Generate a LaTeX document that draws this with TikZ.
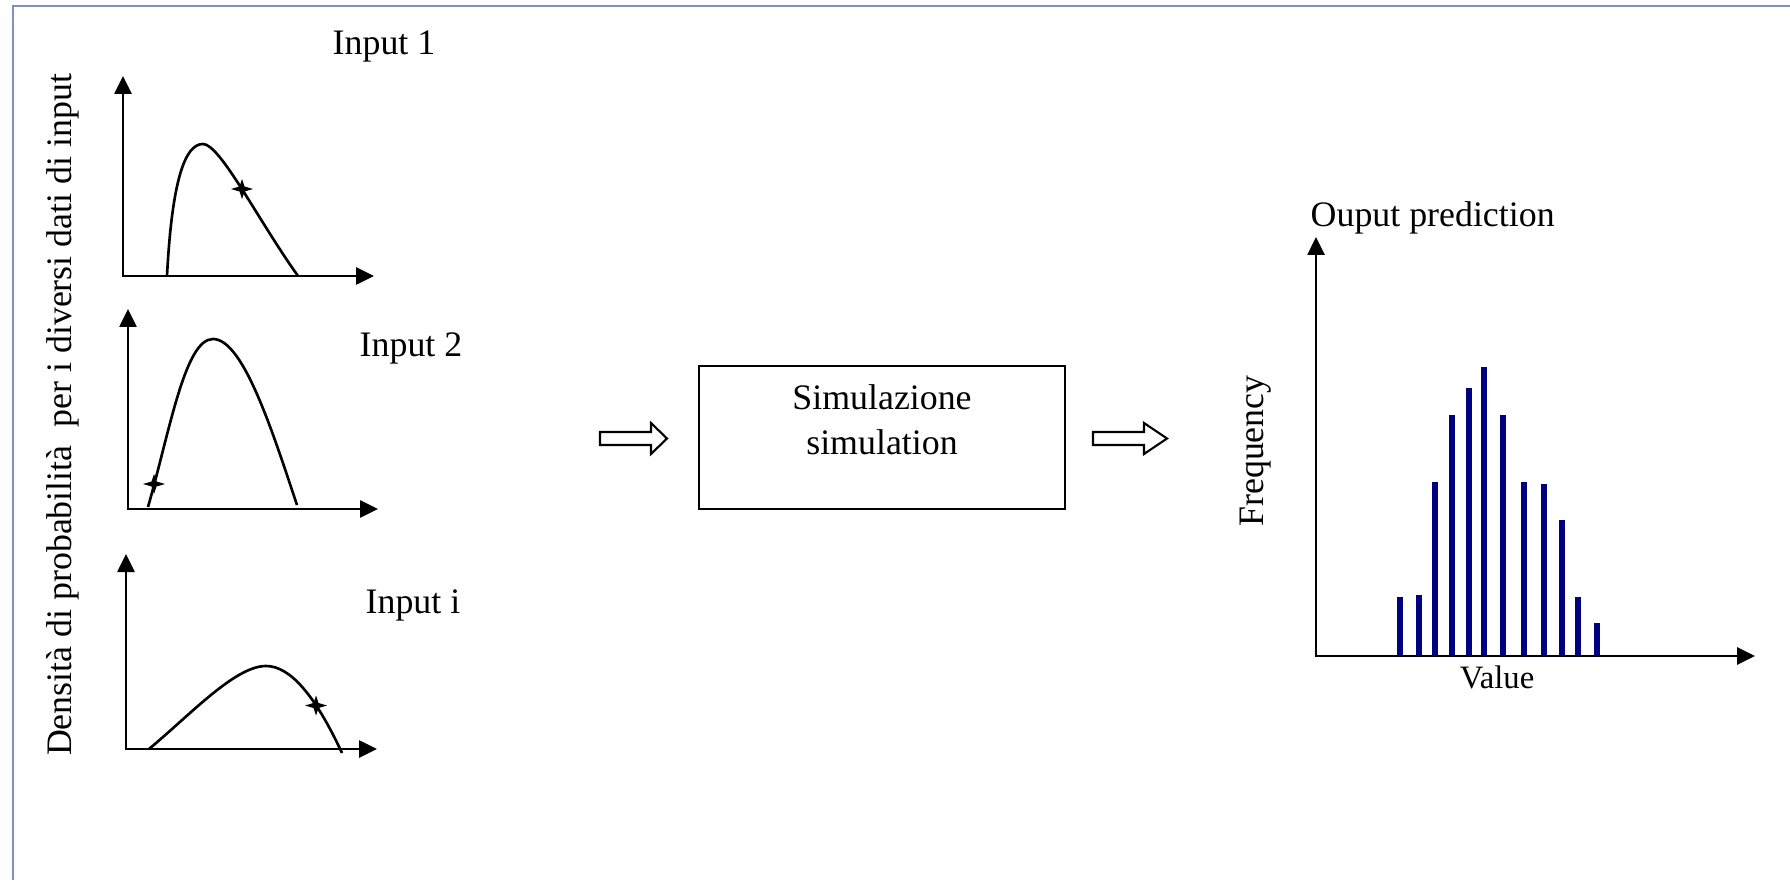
\documentclass[tikz,border=0pt]{standalone}
\usepackage{fontspec}
\setmainfont{Liberation Serif}
\usepackage{tikz}
\usetikzlibrary{arrows.meta,positioning}
\usepackage{xcolor}

\definecolor{framegray}{RGB}{128,144,192}
\definecolor{barblue}{RGB}{0,0,128}

\tikzset{
  lbl/.style={inner sep=0pt,font=\fontsize{10.2}{12.8}\selectfont},
  axes/.style={line width=0.75pt,{Triangle[length=0.18cm,width=0.17cm]}-{Triangle[length=0.18cm,width=0.17cm]}},
  pdf/.style={line width=0.75pt},
  hollow/.style={line width=0.6pt,line join=miter},
  bar/.style={draw=barblue,line width=0.06cm},
  simbox/.style={draw,line width=0.75pt,minimum width=3.66cm,minimum height=1.43cm,inner sep=0pt},
  mcstar/.pic={\fill (-0.11,0) -- (-0.025,0.025) -- (0,0.1) -- (0.025,0.025) -- (0.11,0) -- (0.025,-0.025) -- (0,-0.1) -- (-0.025,-0.025) -- cycle;}
}

\begin{document}
\begin{tikzpicture}

\useasboundingbox (0,0) rectangle (17.9,8.8);
\draw[framegray,line width=0.6pt] (0.127,0) -- (0.127,8.74) -- (17.9,8.74);

% input densities
\draw[axes] (1.23,8.04) -- (1.23,6.04) -- (3.74,6.04);
\draw[pdf] (1.67,6.04) .. controls (1.72,7.00) and (1.85,7.36) .. (2.03,7.36)
  .. controls (2.20,7.36) and (2.58,6.60) .. (2.98,6.04);
\pic at (2.42,6.91) {mcstar};

\draw[axes] (1.28,5.71) -- (1.28,3.71) -- (3.78,3.71);
\draw[pdf] (1.48,3.73) .. controls (1.70,4.50) and (1.85,5.41) .. (2.13,5.41)
  .. controls (2.43,5.41) and (2.72,4.50) .. (2.97,3.75);
\pic at (1.54,3.96) {mcstar};

\draw[axes] (1.26,3.26) -- (1.26,1.31) -- (3.77,1.31);
\draw[pdf] (1.49,1.31) .. controls (1.90,1.65) and (2.35,2.14) .. (2.66,2.14)
  .. controls (2.90,2.14) and (3.15,1.85) .. (3.42,1.27);
\pic at (3.16,1.745) {mcstar};

\node[lbl,anchor=base] (in1) at (3.84,8.25) {Input 1};
\node[lbl,anchor=base] (in2) at (4.11,5.23) {Input 2};
\node[lbl,anchor=base] (ini) at (4.13,2.67) {Input i};
\node[lbl,rotate=90,anchor=base] (dens) at (0.71,4.65) {Densità di probabilità\ \ per i diversi dati di input};

% simulation
\draw[hollow] (6.00,4.35) -- (6.51,4.35) -- (6.51,4.26) -- (6.67,4.415) -- (6.51,4.57) -- (6.51,4.48) -- (6.00,4.48) -- cycle;
\node[simbox] (sim) at (8.82,4.425) {};
\node[lbl,align=center,below=0.195cm of sim.north] (simtxt) {Simulazione\\simulation};
\draw[hollow] (10.93,4.35) -- (11.44,4.35) -- (11.44,4.26) -- (11.67,4.415) -- (11.44,4.57) -- (11.44,4.48) -- (10.93,4.48) -- cycle;

% output histogram
\draw[bar] (14.00,2.24) -- (14.00,2.83);
\draw[bar] (14.185,2.24) -- (14.185,2.85);
\draw[bar] (14.345,2.24) -- (14.345,3.98);
\draw[bar] (14.516,2.24) -- (14.516,4.65);
\draw[bar] (14.686,2.24) -- (14.686,4.92);
\draw[bar] (14.835,2.24) -- (14.835,5.13);
\draw[bar] (15.028,2.24) -- (15.028,4.65);
\draw[bar] (15.235,2.24) -- (15.235,3.98);
\draw[bar] (15.439,2.24) -- (15.439,3.96);
\draw[bar] (15.621,2.24) -- (15.621,3.60);
\draw[bar] (15.781,2.24) -- (15.781,2.83);
\draw[bar] (15.966,2.24) -- (15.966,2.57);
\draw[axes] (13.16,6.43) -- (13.16,2.24) -- (17.55,2.24);

\node[lbl,anchor=base west] (outlbl) at (13.10,6.53) {Ouput prediction};
\node[lbl,rotate=90,anchor=base] (freq) at (12.635,4.29) {Frequency};
\node[lbl,anchor=base,font=\fontsize{9.3}{11}\selectfont] (val) at (14.97,1.92) {Value};

\end{tikzpicture}
\end{document}
